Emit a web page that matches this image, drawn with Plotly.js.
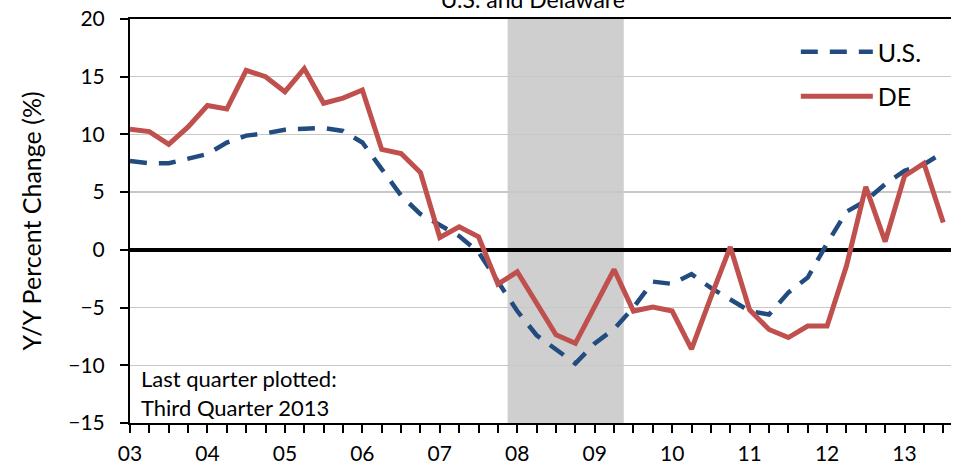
<!DOCTYPE html>
<html>
<head>
<meta charset="utf-8">
<script src="https://cdn.plot.ly/plotly-3.0.1.min.js"></script>
<style>html,body{margin:0;padding:0;background:#fff;}#chart{width:953px;height:470px;}</style>
</head>
<body>
<div id="chart"></div>
<script>
// Quarters 2003Q1 .. 2013Q3
const quarters = [
  "2003Q1","2003Q2","2003Q3","2003Q4","2004Q1","2004Q2","2004Q3","2004Q4",
  "2005Q1","2005Q2","2005Q3","2005Q4","2006Q1","2006Q2","2006Q3","2006Q4",
  "2007Q1","2007Q2","2007Q3","2007Q4","2008Q1","2008Q2","2008Q3","2008Q4",
  "2009Q1","2009Q2","2009Q3","2009Q4","2010Q1","2010Q2","2010Q3","2010Q4",
  "2011Q1","2011Q2","2011Q3","2011Q4","2012Q1","2012Q2","2012Q3","2012Q4",
  "2013Q1","2013Q2","2013Q3"
];
const tickLabels = [
  "03","","","","04","","","","05","","","","06","","","",
  "07","","","","08","","","","09","","","","10","","","",
  "11","","","","12","","","","13","",""
];
const usValues = [
  7.7, 7.5, 7.5, 7.9, 8.3, 9.3, 9.9, 10.1, 10.4, 10.5, 10.55, 10.3,
  9.3, 7.0, 4.7, 3.1, 2.1, 1.2, -0.2, -2.7, -5.3, -7.4, -8.6, -9.85,
  -8.1, -6.85, -5.0, -2.75, -2.95, -2.1, -3.3, -4.35, -5.3, -5.6, -3.7, -2.4,
  0.55, 3.3, 4.25, 5.7, 6.85, 7.4, 8.45
];
const deValues = [
  10.45, 10.25, 9.15, 10.65, 12.5, 12.2, 15.55, 15.0, 13.7, 15.7, 12.7, 13.15,
  13.85, 8.7, 8.35, 6.7, 1.07, 2.0, 1.13, -2.97, -1.9, -4.55, -7.35, -8.1,
  -4.95, -1.7, -5.3, -4.95, -5.3, -8.6, -4.1, 0.26, -5.2, -6.9, -7.6, -6.6,
  -6.6, -1.4, 5.45, 0.72, 6.4, 7.5, 2.37
];
// Recession: 2008Q1 .. 2009Q2 (shaded between category midpoints)
const recessionStart = "2008Q1";
const recessionEnd = "2009Q2";

const font = "Lato, 'Open Sans', sans-serif";
const rs = quarters.indexOf(recessionStart) - 0.5;
const re = quarters.indexOf(recessionEnd) + 0.5;

const traces = [
  {x: quarters, y: usValues, name: "U.S.", type: "scatter", mode: "lines",
   legendgroup: "a",
   line: {color: "#224B80", width: 4.5, dash: "17px,12px"}},
  {x: quarters, y: deValues, name: "DE", type: "scatter", mode: "lines",
   legendgroup: "b",
   line: {color: "#C0504D", width: 5}}
];

const layout = {
  width: 953, height: 470,
  margin: {l: 130, r: 2, t: 19, b: 47},
  paper_bgcolor: "#fff", plot_bgcolor: "#fff",
  font: {family: font, color: "#000", size: 21},
  title: {text: "U.S. and Delaware", font: {family: font, size: 23, color: "#000"},
          x: 0.559, xanchor: "center", y: 1, yref: "container", yanchor: "middle"},
  showlegend: true,
  legend: {x: 0.811, xanchor: "left", y: 0.975, yanchor: "top",
           bgcolor: "rgba(0,0,0,0)", font: {size: 25, family: font},
           itemwidth: 72, tracegroupgap: 9, traceorder: "grouped"},
  xaxis: {type: "category", range: [0, 42.4], tickmode: "array",
          tickvals: quarters, ticktext: tickLabels,
          ticks: "outside", ticklen: 8, tickcolor: "#000", tickwidth: 2,
          showline: true, linecolor: "#000", linewidth: 2, mirror: true,
          showgrid: false, zeroline: false, tickangle: 0,
          ticklabelstandoff: 3,
          tickfont: {size: 21, family: font}},
  yaxis: {range: [-15, 20], tickvals: [-15, -10, -5, 0, 5, 10, 15, 20],
          ticks: "outside", ticklen: 8, tickcolor: "#000", tickwidth: 2,
          showline: true, linecolor: "#000", linewidth: 2,
          showgrid: true, gridcolor: "#C8C8C8", gridwidth: 1.5,
          zeroline: true, zerolinecolor: "#000", zerolinewidth: 4.5,
          ticklabelstandoff: 11,
          tickfont: {size: 21, family: font},
          title: {text: "Y/Y Percent Change (%)", font: {size: 25, family: font}, standoff: 20}},
  shapes: [
    {type: "rect", xref: "x", yref: "paper", x0: rs, x1: re, y0: 0, y1: 1,
     fillcolor: "#CFCFCF", line: {width: 0}, layer: "below"}
  ],
  annotations: [
    {text: "Last quarter plotted:", xref: "paper", yref: "paper", x: 0.011, y: (423-378)/404,
     xanchor: "left", yanchor: "middle", showarrow: false, align: "left",
     font: {size: 22, family: font, color: "#000"}},
    {text: "Third Quarter 2013", xref: "paper", yref: "paper", x: 0.011, y: (423-407)/404,
     xanchor: "left", yanchor: "middle", showarrow: false, align: "left",
     font: {size: 22, family: font, color: "#000"}}
  ]
};

Plotly.newPlot("chart", traces, layout, {displayModeBar: false, staticPlot: true});
</script>
</body>
</html>
